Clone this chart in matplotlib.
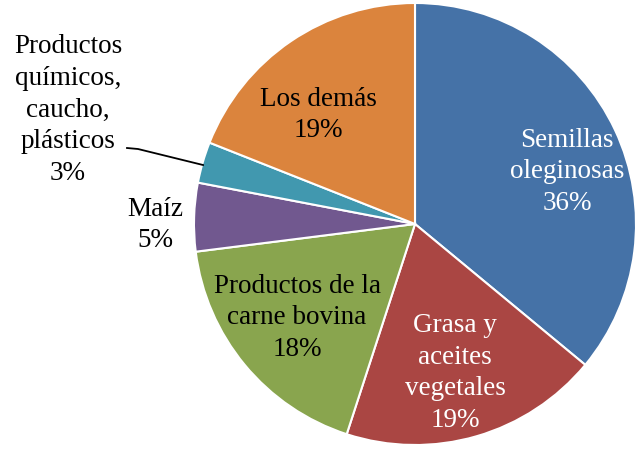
import matplotlib

matplotlib.use("Agg")
from matplotlib import pyplot as plt  # noqa: E402

categories = [
    "Semillas\noleginosas",
    "Grasa y\naceites\nvegetales",
    "Productos de la\ncarne bovina",
    "Maíz",
    "Productos\nquímicos,\ncaucho,\nplásticos",
    "Los demás",
]
shares = [36, 19, 18, 5, 3, 19]
colors = ["#4572A7", "#AA4643", "#89A54E", "#71588F", "#4198AF", "#DB843D"]
text_colors = ["white", "white", "black", "black", "black", "black"]
# label centres in pixels of the 644x451 canvas
label_px = [(567, 172), (455, 373), (297, 318), (155, 225), (68, 110), (318, 115)]

W, H = 644, 451
cx, cy, r = 415, 224, 221

fig = plt.figure(figsize=(W / 100, H / 100), dpi=100)
ax = fig.add_axes([(cx - r) / W, (H - cy - r) / H, 2 * r / W, 2 * r / H])
ax.pie(
    shares,
    colors=colors,
    startangle=90,
    counterclock=False,
    radius=1.0,
    wedgeprops={"edgecolor": "white", "linewidth": 1.5},
)
ax.set_xlim(-1, 1)
ax.set_ylim(-1, 1)
ax.set_aspect("equal")
ax.axis("off")


def to_data(px, py):
    return (px - cx) / r, (cy - py) / r


for name, share, tc, (px, py) in zip(categories, shares, text_colors, label_px):
    x, y = to_data(px, py)
    ax.text(x, y, f"{name}\n{share}%", ha="center", va="center",
            fontsize=19.5, family="Liberation Serif", color=tc,
            linespacing=1.36, clip_on=False)

# leader line for the small slice
pts = [to_data(127, 148), to_data(138, 149), to_data(203, 165)]
ax.plot([p[0] for p in pts], [p[1] for p in pts], color="black",
        linewidth=1.3, clip_on=False)

fig.savefig("out.png", dpi=100)
plt.close(fig)
